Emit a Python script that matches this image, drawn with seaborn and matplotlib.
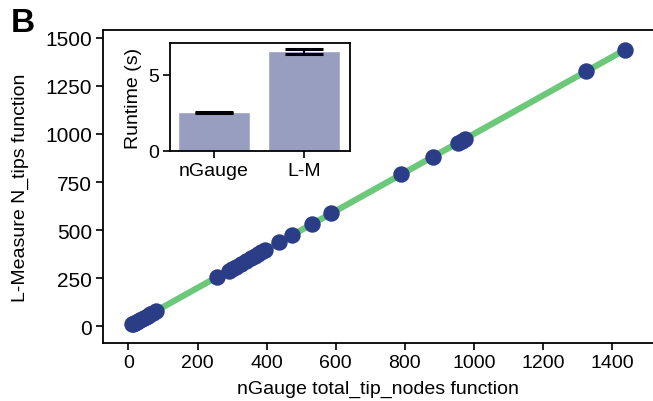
import matplotlib
matplotlib.use("Agg")
import matplotlib.pyplot as plt
import seaborn as sns
import numpy as np
import pandas as pd

# Data
ngauge_tips = [10, 13, 16, 20, 24, 28, 33, 38, 44, 50, 56, 62, 70, 80,
               255, 290, 300, 310, 325, 340, 355, 365, 375, 385, 395,
               437, 474, 532, 587, 790, 882, 955, 965, 975, 1325, 1436]
lmeasure_tips = [10, 13, 16, 20, 24, 28, 33, 38, 44, 50, 56, 62, 70, 80,
                 255, 290, 300, 310, 325, 340, 355, 365, 375, 385, 395,
                 437, 474, 532, 587, 790, 882, 955, 965, 975, 1325, 1436]

tools = ["nGauge", "L-M"]
runtime_mean = [2.55, 6.55]
runtime_err = [0.04, 0.15]

x_ticks = [0, 200, 400, 600, 800, 1000, 1200, 1400]
y_ticks = [0, 250, 500, 750, 1000, 1250, 1500]
inset_yticks = [0, 5]

sns.set_theme(style="ticks")
plt.rcParams["font.family"] = ["Liberation Sans", "DejaVu Sans"]
plt.rcParams["text.color"] = "black"
plt.rcParams["axes.labelcolor"] = "black"
plt.rcParams["xtick.color"] = "black"
plt.rcParams["ytick.color"] = "black"

FS = 14

df = pd.DataFrame({"x": ngauge_tips, "y": lmeasure_tips})

fig = plt.figure(figsize=(6.53, 4.02), dpi=100)
ax = fig.add_axes([0.158, 0.144, 0.842, 0.779])

sns.regplot(data=df, x="x", y="y", ax=ax, scatter=False, ci=None,
            color="#6cc97a", line_kws={"linewidth": 4.5, "solid_capstyle": "butt"})
sns.scatterplot(data=df, x="x", y="y", ax=ax, color="#2c3d87", s=140,
                linewidth=0, zorder=3)

ax.set_xlim(-73, 1518)
ax.set_ylim(-87, 1540)
ax.set_xticks(x_ticks)
ax.set_yticks(y_ticks)
ax.tick_params(axis="x", labelsize=FS, length=5, width=1.2, colors="black", pad=3)
ax.tick_params(axis="y", labelsize=15, length=5, width=1.2, colors="black", pad=3)
ax.set_xlabel("nGauge total_tip_nodes function", fontsize=FS, labelpad=6, color="black")
ax.set_ylabel("L-Measure N_tips function", fontsize=FS, labelpad=12, color="black")
for side in ["left", "bottom", "top"]:
    ax.spines[side].set_color("black")
    ax.spines[side].set_linewidth(1.3)
ax.spines["right"].set_visible(False)

# Inset bar chart
iax = fig.add_axes([170 / 653, 1 - 152 / 402, 180 / 653, 108 / 402])
bdf = pd.DataFrame({"tool": tools, "runtime": runtime_mean})
sns.barplot(data=bdf, x="tool", y="runtime", ax=iax, color="#979ec0",
            saturation=1, width=0.8, errorbar=None)
iax.errorbar(x=np.arange(len(tools)), y=runtime_mean, yerr=runtime_err,
             fmt="none", ecolor="black", elinewidth=1.5, capsize=14, capthick=2.2)
iax.set_ylim(0, 7.1)
iax.set_xlim(-0.49, 1.51)
iax.set_yticks(inset_yticks)
iax.set_xlabel("")
iax.set_ylabel("Runtime (s)", fontsize=FS, labelpad=4, color="black")
iax.tick_params(labelsize=FS, length=5, width=1.2, colors="black", pad=3)
for side in iax.spines.values():
    side.set_color("black")
    side.set_linewidth(1.3)

fig.text(0.017, 0.98, "B", fontsize=24, fontweight="bold", va="top", ha="left",
         color="black")

fig.savefig("out.png", dpi=100)
